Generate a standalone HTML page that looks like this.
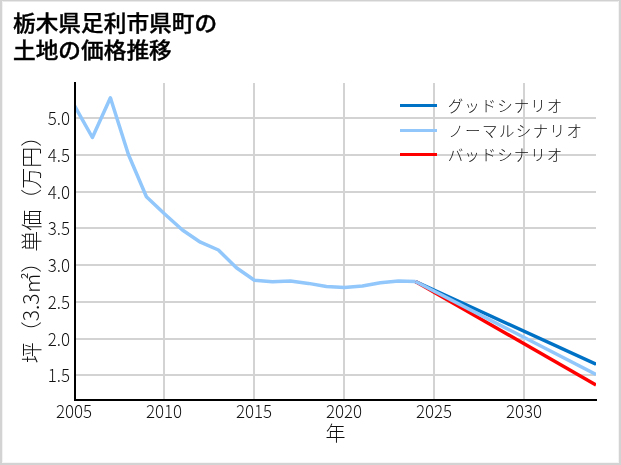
<!DOCTYPE html>
<html lang="ja"><head><meta charset="utf-8"><title>栃木県足利市県町の土地の価格推移</title>
<style>
html,body{margin:0;padding:0;background:#fff;}
body{width:621px;height:465px;overflow:hidden;position:relative;}
.b{position:absolute;}
svg{position:absolute;left:0;top:0;will-change:transform;}
.tt{font-family:"Liberation Sans","Noto Sans CJK JP",sans-serif;font-weight:500;font-size:22.7px;fill:#000;stroke:#000;stroke-width:0.4px;}
.tk{font-family:"Noto Sans CJK JP",sans-serif;font-weight:300;font-size:18px;fill:#111;}
.lg{font-family:"Noto Sans CJK JP",sans-serif;font-weight:300;font-size:15.5px;letter-spacing:1px;fill:#111;}
.al{font-family:"Noto Sans CJK JP",sans-serif;font-weight:300;font-size:20px;fill:#111;}
</style></head>
<body>
<div class="b" style="left:0;top:0;width:621px;height:1px;background:#d1d1d1"></div>
<div class="b" style="left:2px;top:1px;width:616px;height:1px;background:#e9e9e9"></div>
<div class="b" style="left:0;top:0;width:2px;height:465px;background:#d3d3d3"></div>
<div class="b" style="left:2px;top:1px;width:1px;height:461px;background:#f2f2f2"></div>
<div class="b" style="left:619px;top:0;width:2px;height:465px;background:#d3d3d3"></div>
<div class="b" style="left:618px;top:1px;width:1px;height:462px;background:#f4f4f4"></div>
<div class="b" style="left:0;top:463px;width:621px;height:2px;background:#d3d3d3"></div>
<div class="b" style="left:2px;top:462px;width:616px;height:1px;background:#f6f6f6"></div>
<svg width="621" height="465" viewBox="0 0 621 465">
<text transform="translate(13,30.9) scale(1,0.93)" class="tt">栃木県足利市県町の</text>
<text transform="translate(13,57.9) scale(1,0.93)" class="tt">土地の価格推移</text>
<g><rect x="163" y="83" width="2" height="316" fill="#d3d3d3"/><rect x="253" y="83" width="2" height="316" fill="#d3d3d3"/><rect x="343" y="83" width="2" height="316" fill="#d3d3d3"/><rect x="433" y="83" width="2" height="316" fill="#d3d3d3"/><rect x="523" y="83" width="2" height="316" fill="#d3d3d3"/><rect x="76" y="117" width="520" height="2" fill="#d3d3d3"/><rect x="76" y="154" width="520" height="2" fill="#d3d3d3"/><rect x="76" y="191" width="520" height="2" fill="#d3d3d3"/><rect x="76" y="227" width="520" height="2" fill="#d3d3d3"/><rect x="76" y="264" width="520" height="2" fill="#d3d3d3"/><rect x="76" y="301" width="520" height="2" fill="#d3d3d3"/><rect x="76" y="338" width="520" height="2" fill="#d3d3d3"/><rect x="76" y="374" width="520" height="2" fill="#d3d3d3"/></g>
<defs><clipPath id="ax"><rect x="76" y="82" width="520" height="317"/></clipPath></defs>
<g clip-path="url(#ax)">
<polyline points="415.40,281.50 596,364.20" fill="none" stroke="#0072C6" stroke-width="3.5" stroke-linejoin="round" stroke-linecap="butt"/>
<polyline points="415.40,281.50 596,385.00" fill="none" stroke="#FF0000" stroke-width="3.5" stroke-linejoin="round" stroke-linecap="butt"/>
<polyline points="415.40,281.50 596,374.40" fill="none" stroke="#91C7FB" stroke-width="3.5" stroke-linejoin="round" stroke-linecap="butt"/>
<polyline points="74.40,105.50 92.40,137.50 110.40,97.80 128.40,154.50 146.40,196.80 164.40,213.80 182.40,230.00 200.40,242.20 218.40,250.00 236.40,267.80 254.40,280.20 272.40,281.70 290.40,281.00 308.40,283.40 326.40,286.50 344.40,287.50 362.40,286.00 380.40,282.80 398.40,280.90 415.40,281.50" fill="none" stroke="#91C7FB" stroke-width="3.5" stroke-linejoin="round" stroke-linecap="butt"/>
</g>
<rect x="74" y="82" width="2" height="319" fill="#000"/>
<rect x="74" y="399" width="523" height="2" fill="#000"/>
<text transform="translate(70,124.5) scale(0.94,1)" text-anchor="end" class="tk">5.0</text><text transform="translate(70,161.5) scale(0.94,1)" text-anchor="end" class="tk">4.5</text><text transform="translate(70,198.5) scale(0.94,1)" text-anchor="end" class="tk">4.0</text><text transform="translate(70,234.5) scale(0.94,1)" text-anchor="end" class="tk">3.5</text><text transform="translate(70,271.5) scale(0.94,1)" text-anchor="end" class="tk">3.0</text><text transform="translate(70,308.5) scale(0.94,1)" text-anchor="end" class="tk">2.5</text><text transform="translate(70,345.5) scale(0.94,1)" text-anchor="end" class="tk">2.0</text><text transform="translate(70,381.5) scale(0.94,1)" text-anchor="end" class="tk">1.5</text><text transform="translate(74,418.3) scale(0.94,1)" text-anchor="middle" class="tk">2005</text><text transform="translate(164,418.3) scale(0.94,1)" text-anchor="middle" class="tk">2010</text><text transform="translate(254,418.3) scale(0.94,1)" text-anchor="middle" class="tk">2015</text><text transform="translate(344,418.3) scale(0.94,1)" text-anchor="middle" class="tk">2020</text><text transform="translate(434,418.3) scale(0.94,1)" text-anchor="middle" class="tk">2025</text><text transform="translate(524,418.3) scale(0.94,1)" text-anchor="middle" class="tk">2030</text>
<rect x="400" y="104" width="37" height="3" fill="#0072C6"/>
<rect x="400" y="129" width="37" height="3" fill="#91C7FB"/>
<rect x="400" y="153" width="37" height="3" fill="#FF0000"/>
<text x="447.8" y="111.5" class="lg">グッドシナリオ</text>
<text x="448.2" y="136.5" class="lg" style="letter-spacing:1.4px">ノーマルシナリオ</text>
<text x="447.8" y="160.5" class="lg">バッドシナリオ</text>
<text x="335.5" y="440.6" text-anchor="middle" class="al">年</text>
<text transform="translate(39,244.5) rotate(-90)" text-anchor="middle" class="al" style="font-size:21px">坪（3.3㎡）単価（万円）</text>
</svg>
</body></html>
